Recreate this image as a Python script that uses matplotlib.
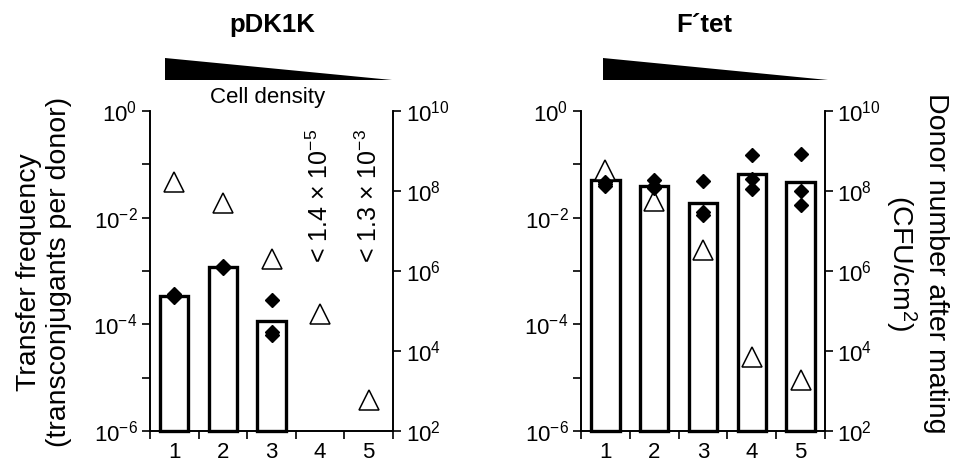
import matplotlib
matplotlib.use('Agg')
import matplotlib.pyplot as plt
from matplotlib.patches import Polygon
from matplotlib.ticker import NullLocator

plt.rcParams['font.family'] = ['Liberation Sans', 'DejaVu Sans']
plt.rcParams['mathtext.fontset'] = 'custom'
plt.rcParams['mathtext.rm'] = 'Liberation Sans'
plt.rcParams['mathtext.default'] = 'regular'

# ---------------- data ----------------
categories = [1, 2, 3, 4, 5]
x_labels = ['1', '2', '3', '4', '5']

# pDK1K
pdk_bar_x = [1, 2, 3]
pdk_bar = [3.4e-4, 1.2e-3, 1.15e-4]
pdk_pts_x = [1, 1, 1, 2, 2, 2, 3, 3, 3]
pdk_pts = [3.7e-4, 3.5e-4, 3.3e-4, 1.25e-3, 1.2e-3, 1.15e-3, 2.8e-4, 7.2e-5, 6.3e-5]
pdk_donor = [1.66e8, 5.1e7, 1.95e6, 8.3e4, 5.9e2]
pdk_limit_x = [4, 5]
pdk_limit_text = ['< 1.4 \u00d7 10$^{-5}$', '< 1.3 \u00d7 10$^{-3}$']

# F'tet
ftet_bar_x = [1, 2, 3, 4, 5]
ftet_bar = [0.05, 0.04, 0.0185, 0.065, 0.046]
ftet_pts_x = [1, 1, 1, 2, 2, 2, 3, 3, 3, 4, 4, 4, 5, 5, 5]
ftet_pts = [0.047, 0.043, 0.040, 0.050, 0.040, 0.036, 0.049, 0.0125, 0.0112,
            0.148, 0.054, 0.035, 0.158, 0.032, 0.017]
ftet_donor = [3.4e8, 5.5e7, 3.4e6, 7.1e3, 1.9e3]

titles = ['pDK1K', 'F\u00b4tet']
left_ylabel = 'Transfer frequency\n(transconjugants per donor)'
right_ylabel = 'Donor number after mating\n(CFU/cm$^{2}$)'
density_label = 'Cell density'

# ---------------- figure ----------------
W, H = 954, 462
fig = plt.figure(figsize=(W / 100, H / 100), dpi=100)

def px_axes(x0, x1, ytop, ybot):
    return fig.add_axes([x0 / W, 1 - ybot / H, (x1 - x0) / W, (ybot - ytop) / H])

TICK_FS = 16
LW = 1.2

def setup(ax):
    ax.set_xlim(0.5, 5.5)
    ax.set_yscale('log')
    ax.set_ylim(1e-6, 1)
    ks = list(range(-6, 1))
    ax.set_yticks([10.0 ** k for k in ks])
    ax.set_yticklabels(['$10^{%d}$' % k if k % 2 == 0 else '' for k in ks])
    ax.yaxis.set_minor_locator(NullLocator())
    ax.set_xticks([0.5, 1.5, 2.5, 3.5, 4.5, 5.5])
    ax.set_xticklabels([''] * 6)
    ax.set_xticks(categories, minor=True)
    ax.set_xticklabels(x_labels, minor=True, fontsize=TICK_FS)
    ax.tick_params(axis='x', which='minor', length=0, pad=8)
    ax.tick_params(axis='x', which='major', length=6, width=LW, direction='out')
    ax.tick_params(axis='y', which='major', length=6, width=LW, direction='out',
                   labelsize=TICK_FS, pad=3)
    ax.spines['top'].set_visible(False)
    for s in ['left', 'right', 'bottom']:
        ax.spines[s].set_linewidth(LW)
    ax2 = ax.twinx()
    ax2.set_yscale('log')
    ax2.set_ylim(1e2, 1e10)
    k2 = [2, 4, 6, 8, 10]
    ax2.set_yticks([10.0 ** k for k in k2])
    ax2.set_yticklabels(['$10^{%d}$' % k for k in k2])
    ax2.yaxis.set_minor_locator(NullLocator())
    ax2.tick_params(axis='y', which='major', length=6, width=LW, direction='out',
                    labelsize=TICK_FS, pad=3)
    ax2.spines['top'].set_visible(False)
    for s in ['left', 'right', 'bottom']:
        ax2.spines[s].set_linewidth(LW)
    return ax2

def draw_panel(ax, ax2, bx, bv, px, pv, donor):
    ax.bar(bx, [v - 1e-6 for v in bv], bottom=1e-6, width=0.58, facecolor='white',
           edgecolor='black', linewidth=2.4, zorder=2, clip_on=False)
    ax2.plot(categories, donor, linestyle='none', marker='^', markersize=14,
             markerfacecolor='white', markeredgecolor='black', markeredgewidth=1.1,
             zorder=3, clip_on=False)
    ax2.plot(px, pv, linestyle='none', marker='D', markersize=7, color='black',
             transform=ax.transData, zorder=4, clip_on=False)
    ax2.set_ylim(1e2, 1e10)

axL = px_axes(150, 393, 111, 431)
axL2 = setup(axL)
axR = px_axes(581, 825, 111, 431)
axR2 = setup(axR)

draw_panel(axL, axL2, pdk_bar_x, pdk_bar, pdk_pts_x, pdk_pts, pdk_donor)
draw_panel(axR, axR2, ftet_bar_x, ftet_bar, ftet_pts_x, ftet_pts, ftet_donor)

for xv, t in zip(pdk_limit_x, pdk_limit_text):
    axL.text(xv, 0.525, t, transform=axL.get_xaxis_transform(), rotation=90,
             ha='center', va='bottom', fontsize=18)

# titles
fig.text(272 / W, 1 - 25 / H, titles[0], ha='center', va='center',
         fontsize=18.5, fontweight='bold')
fig.text(704 / W, 1 - 25 / H, titles[1], ha='center', va='center',
         fontsize=18.5, fontweight='bold')

# density wedges
for (x0, x1) in [(165, 392), (603, 828)]:
    poly = Polygon([(x0 / W, 1 - 80 / H), (x0 / W, 1 - 58 / H), (x1 / W, 1 - 80 / H)],
                   closed=True, facecolor='black', edgecolor='none',
                   transform=fig.transFigure)
    fig.patches.append(poly)
fig.text(268 / W, 1 - 97 / H, density_label, ha='center', va='center', fontsize=16)

# axis labels
fig.text(44 / W, 1 - 272 / H, left_ylabel, rotation=90, ha='center', va='center',
         multialignment='center', fontsize=20.5, linespacing=1.2)
fig.text(916 / W, 1 - 263 / H, right_ylabel, rotation=270, ha='center', va='center',
         multialignment='center', fontsize=20.5, linespacing=1.2)

fig.savefig('out.png', dpi=100)
